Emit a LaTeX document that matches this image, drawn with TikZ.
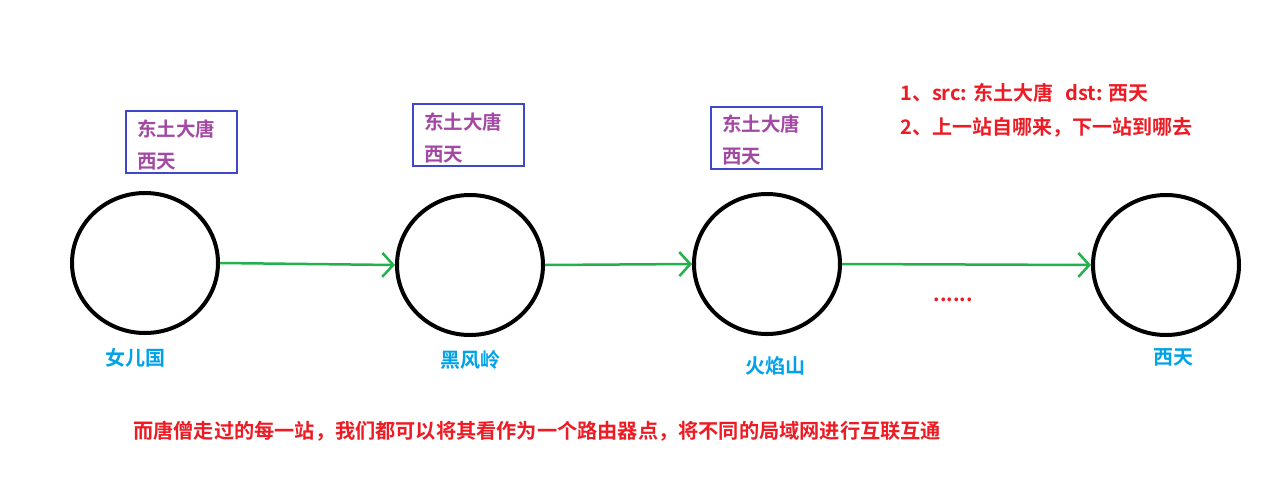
\documentclass[tikz,border=0pt]{standalone}
\usepackage{fontspec}
\newfontfamily\cjk{Noto Sans CJK SC Bold}
\usetikzlibrary{arrows.meta,shapes.geometric}
\definecolor{pgreen}{RGB}{34,177,76}
\definecolor{pblue}{RGB}{63,72,204}
\definecolor{ppurple}{RGB}{163,73,164}
\definecolor{pcyan}{RGB}{0,162,232}
\definecolor{pred}{RGB}{237,28,36}
\begin{document}
\begin{tikzpicture}[x=1pt,y=-1pt,
  station/.style={draw=black,line width=4pt,ellipse,minimum width=146pt,minimum height=140pt,inner sep=0pt},
  infobox/.style={draw=pblue,line width=2.5pt,minimum width=111pt,minimum height=62pt,inner sep=0pt},
  infotext/.style={text=ppurple,font=\cjk\fontsize{19.5}{32}\selectfont,align=left,anchor=north west,inner sep=0pt},
  place/.style={text=pcyan,font=\cjk\fontsize{20}{22}\selectfont,inner sep=0pt},
  note/.style={text=pred,font=\cjk\fontsize{20}{34}\selectfont,anchor=west,inner sep=0pt},
  hop/.style={draw=pgreen,line width=2.5pt,-{Straight Barb[length=11pt,width=24pt,line width=2.5pt]}}
]
\useasboundingbox[fill=white] (0,0) rectangle (1278,480);
\node[station] (c1) at (145,263) {};
\node[station] (c2) at (470,265) {};
\node[station] (c3) at (767,264) {};
\node[station] (c4) at (1166,265) {};

\draw[hop] (c1.east) -- (c2.west);
\draw[hop] (c2.east) -- (c3.west);
\draw[hop] (c3.east) -- (c4.west);

\node[infobox] (b1) at (181.5,142) {};
\node[infobox] (b2) at (468.5,135) {};
\node[infobox] (b3) at (766.5,138) {};
\node[infotext] (t1) at (137,120) {东土大唐\\西天};
\node[infotext] (t2) at (424,113) {东土大唐\\西天};
\node[infotext] (t3) at (722,115) {东土大唐\\西天};

\node[place] (l1) at (135,358) {女儿国};
\node[place] (l2) at (470,360) {黑风岭};
\node[place] (l3) at (775,366) {火焰山};
\node[place] (l4) at (1173,357) {西天};

\node[text=pred,font=\cjk\fontsize{20}{20}\selectfont,inner sep=0pt] (dots) at (953,300) {......};

\node[note] (n1) at (900,93) {1、src: 东土大唐\hspace{12pt}dst: 西天};
\node[note] (n2) at (900,127) {2、上一站自哪来，下一站到哪去};
\node[note,font=\cjk\fontsize{20.2}{24}\selectfont] (n3) at (133,431) {而唐僧走过的每一站，我们都可以将其看作为一个路由器点，将不同的局域网进行互联互通};
\end{tikzpicture}
\end{document}
